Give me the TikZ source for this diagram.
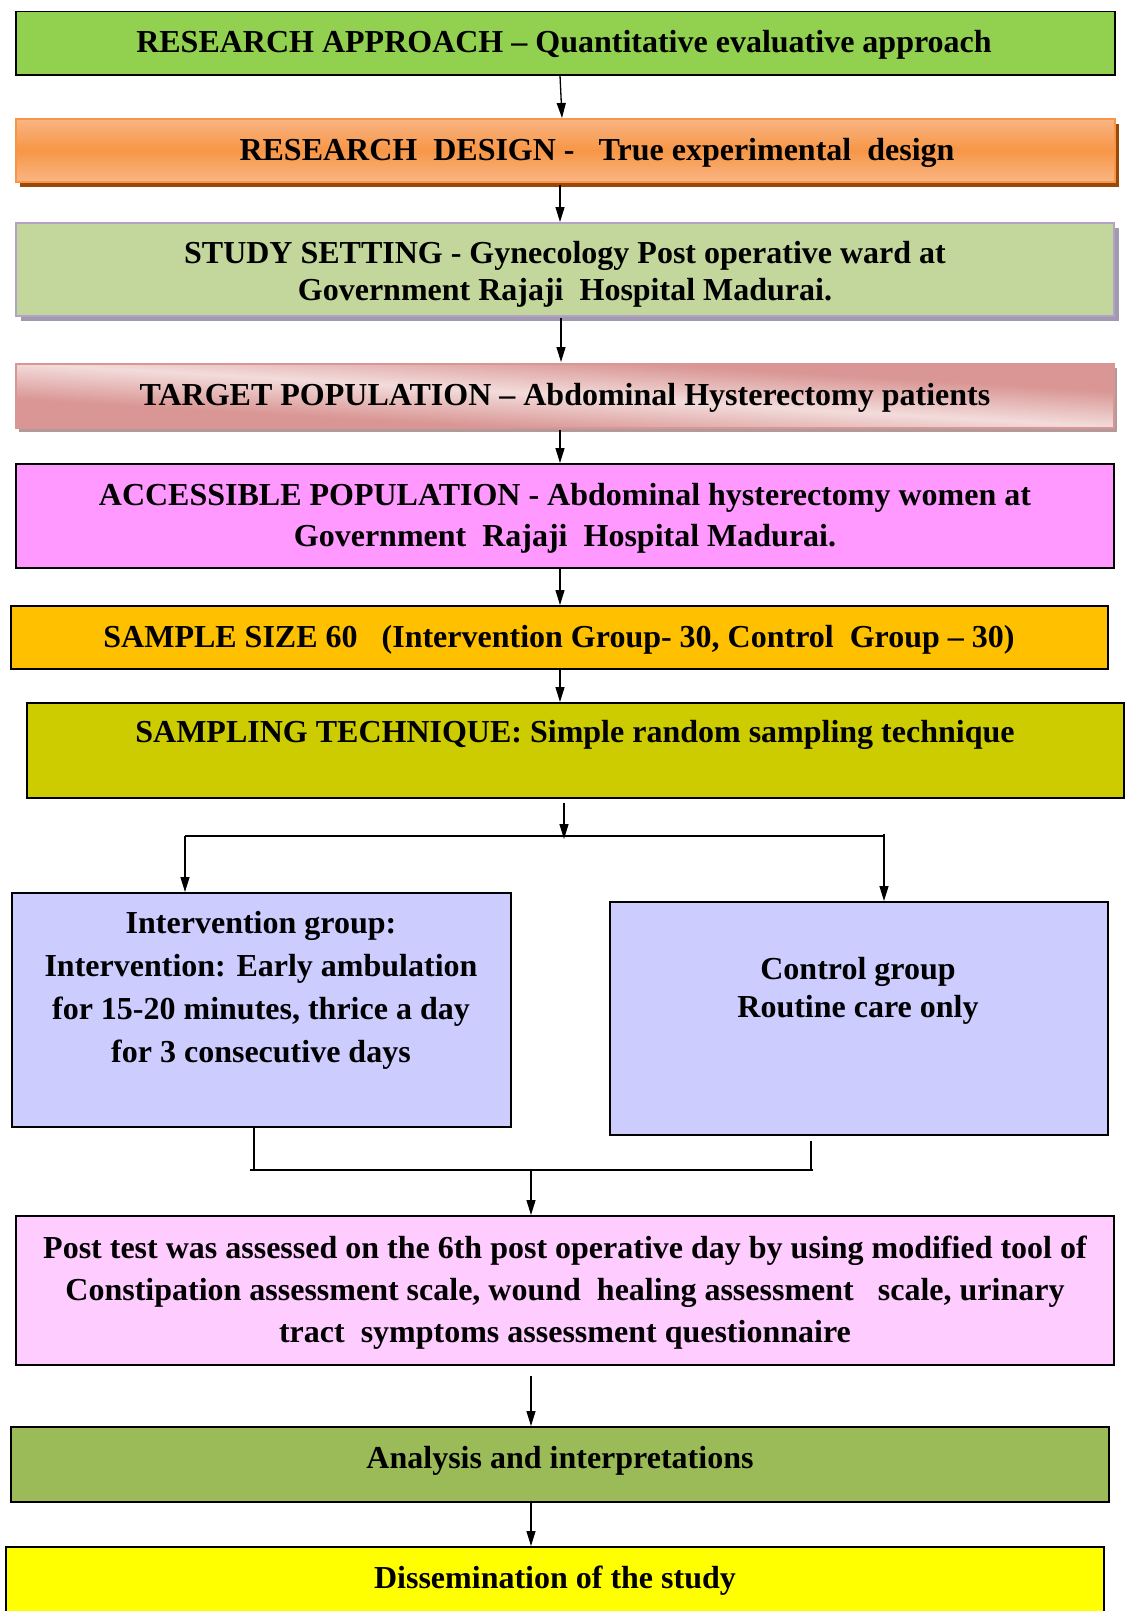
\documentclass[tikz,border=0pt]{standalone}
\usepackage{fontspec}
\setmainfont{Liberation Serif}
\usetikzlibrary{arrows.meta,shadows}
\definecolor{gA}{HTML}{92D050}
\definecolor{olight}{HTML}{FAC29E}
\definecolor{omid}{HTML}{F79646}
\definecolor{oshadow}{HTML}{984807}
\definecolor{gB}{HTML}{C3D69B}
\definecolor{lav}{HTML}{B3A2C7}
\definecolor{lavshadow}{HTML}{A19AAE}
\definecolor{pdark}{HTML}{D99694}
\definecolor{plight}{HTML}{F2DCDB}
\definecolor{pshadow}{HTML}{B39A9A}
\definecolor{mag}{HTML}{FF99FF}
\definecolor{amber}{HTML}{FFC000}
\definecolor{olive}{HTML}{CCCC00}
\definecolor{peri}{HTML}{CCCCFF}
\definecolor{lpink}{HTML}{FFCCFF}
\definecolor{gC}{HTML}{9BBB59}
\definecolor{yel}{HTML}{FFFF00}
\pgfdeclareverticalshading{orangeband}{100bp}{color(0bp)=(olight); color(15bp)=(olight); color(50bp)=(omid); color(85bp)=(olight); color(100bp)=(olight)}
\pgfdeclareverticalshading{pinkband}{100bp}{color(0bp)=(pdark); color(30bp)=(pdark); color(50bp)=(plight); color(70bp)=(pdark); color(100bp)=(pdark)}
\begin{document}
\begin{tikzpicture}[x=1pt,y=-1pt,
  box/.style={draw=black, line width=1.5pt, inner sep=0pt, anchor=north west},
  txt/.style={font=\fontsize{32}{37}\selectfont\bfseries, align=center, inner sep=0pt},
  arr/.style={line width=1.3pt, -{Triangle[length=15pt,width=9pt]}},
  ln/.style={line width=1.3pt}]
\useasboundingbox (0,0) rectangle (1125,1611);

% boxes
\node[box, fill=gA, minimum width=1099pt, minimum height=63pt] (b1) at (15,11) {};
\node[box, draw=omid, shade, shading=orangeband, minimum width=1099pt, minimum height=63pt,
  general shadow={fill=oshadow, shadow xshift=4pt, shadow yshift=-5pt}] (b2) at (15,118) {};
\node[box, draw=lav, line width=2pt, fill=gB, minimum width=1098pt, minimum height=93pt,
  general shadow={fill=lavshadow, shadow xshift=5pt, shadow yshift=-5pt}] (b3) at (15,222) {};
% target population: shadow, diagonal gradient, border
\fill[pshadow] (19,368) rectangle (1117,432);
\begin{scope}[transform canvas={shift={(15pt,-427pt)}, xscale=10.98, yscale=0.64}]
  \shade[shading=pinkband, shading angle=-45] (0pt,0pt) rectangle (100pt,100pt);
\end{scope}
\node[box, draw=pdark, line width=2pt, minimum width=1098pt, minimum height=64pt] (b4) at (15,363) {};
\node[box, fill=mag, minimum width=1098pt, minimum height=104pt] (b5) at (15,463) {};
\node[box, fill=amber, minimum width=1097pt, minimum height=63pt] (b6) at (10,605) {};
\node[box, fill=olive, line width=2pt, minimum width=1097pt, minimum height=95pt] (b7) at (26,702) {};
\node[box, fill=peri, minimum width=499pt, minimum height=234pt] (b8) at (11,892) {};
\node[box, fill=peri, minimum width=498pt, minimum height=233pt] (b9) at (609,901) {};
\node[box, fill=lpink, minimum width=1098pt, minimum height=149pt] (b10) at (15,1215) {};
\node[box, fill=gC, minimum width=1098pt, minimum height=75pt] (b11) at (10,1426) {};
\node[box, fill=yel, minimum width=1098pt, minimum height=80pt] (b12) at (5,1546) {};

% texts
\node[txt] (t1) at (564,44.5) {RESEARCH APPROACH -- Quantitative evaluative approach};
\node[txt] (t2) at (597,152.5) {RESEARCH\ \ DESIGN -\ \ \ True experimental\ \ design};
\node[txt] (t3) at (565,274.5) {STUDY SETTING - Gynecology Post operative ward at\\Government Rajaji\ \ Hospital Madurai.};
\node[txt] (t4) at (565,397.5) {TARGET POPULATION -- Abdominal Hysterectomy patients};
\node[txt, font=\fontsize{32}{41}\selectfont\bfseries] (t5) at (565,518) {ACCESSIBLE POPULATION - Abdominal hysterectomy women at\\Government\ \ Rajaji\ \ Hospital Madurai.};
\node[txt] (t6) at (559,639.5) {SAMPLE SIZE 60\ \ \ (Intervention Group- 30, Control\ \ Group -- 30)};
\node[txt] (t7) at (575,734.5) {SAMPLING TECHNIQUE: Simple random sampling technique};
\node[txt, font=\fontsize{32}{43}\selectfont\bfseries] (t8) at (261,990.5) {Intervention group:\\Intervention: Early ambulation\\for 15-20 minutes, thrice a day\\for 3 consecutive days};
\node[txt, font=\fontsize{32}{38}\selectfont\bfseries] (t9) at (858,990.5) {Control group\\Routine care only};
\node[txt, font=\fontsize{32}{42}\selectfont\bfseries] (t10) at (565,1292.5) {Post test was assessed on the 6th post operative day by using modified tool of\\Constipation assessment scale, wound\ \ healing assessment\ \ \ scale, urinary\\tract\ \ symptoms assessment questionnaire};
\node[txt] (t11) at (560,1460.5) {Analysis and interpretations};
\node[txt] (t12) at (555,1580.5) {Dissemination of the study};

% axis coordinates
\coordinate (xa) at (560,0);
\coordinate (xb) at (562,0);
\coordinate (xc) at (561,0);
\coordinate (xd) at (564,0);
\coordinate (xl) at (185,0);
\coordinate (xr) at (884,0);
\coordinate (xll) at (254,0);
\coordinate (xrr) at (811,0);
\coordinate (xm) at (531,0);
\coordinate (split) at (564,836);
\coordinate (spL) at (185,836);
\coordinate (spR) at (884,834);
\coordinate (jn) at (531,1170);
\coordinate (jL) at (250,1170);
\coordinate (jR) at (813,1170);

% connectors
\draw[arr] (b1.south -| xa) -- (b2.north -| xb);
\draw[arr] ([yshift=-2pt]b2.south -| xa) -- (b3.north -| xa);
\draw[arr] ([yshift=-1pt]b3.south -| xc) -- ([yshift=1pt]b4.north -| xc);
\draw[arr] ([yshift=-1pt]b4.south -| xa) -- (b5.north -| xa);
\draw[arr] (b5.south -| xa) -- (b6.north -| xa);
\draw[arr] (b6.south -| xa) -- (b7.north -| xa);
\draw[arr] ([yshift=-4pt]b7.south -| xd) -- ([yshift=-3pt]split);
\draw[ln] (spL) -- (split) -- (884,836);
\draw[arr] (spL) -- (b8.north -| xl);
\draw[arr] (spR) -- (b9.north -| xr);
\draw[ln] (b8.south -| xll) -- (jL -| xll);
\draw[ln] ([yshift=-5pt]b9.south -| xrr) -- (jR -| xrr);
\draw[ln] (jL) -- (jR);
\draw[arr] (jn) -- (b10.north -| xm);
\draw[arr] ([yshift=-10pt]b10.south -| xm) -- (b11.north -| xm);
\draw[arr] (b11.south -| xm) -- (b12.north -| xm);
\end{tikzpicture}
\end{document}
